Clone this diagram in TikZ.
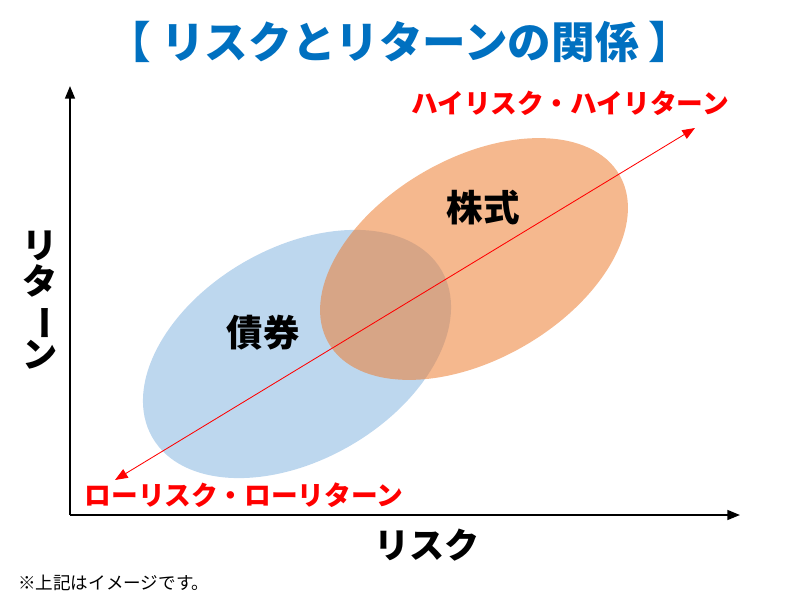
\documentclass[tikz,border=0pt]{standalone}
\usepackage{fontspec}
\setmainfont{Noto Sans CJK JP}
\usepackage{graphicx}
\usetikzlibrary{arrows.meta}
\definecolor{titleblue}{HTML}{0070C0}
\definecolor{bondblue}{HTML}{5B9BD5}
\definecolor{stockorange}{HTML}{ED7D31}
\definecolor{riskred}{HTML}{FF0000}
\tikzset{
  % Set arrowhead
  >={Triangle[length=9pt,width=7pt]},
  % Axes
  axis/.style={->, line width=1.4pt, black},
  % Risk-return arrow
  rr<->/.style={<->, riskred, line width=0.6pt,
    >={Triangle[length=9pt,width=7pt]}},
  % Asset areas
  bondarea/.style={fill=bondblue, fill opacity=0.4},
  stockarea/.style={fill=stockorange, fill opacity=0.55},
  % Texts
  titletext/.style={font=\fontsize{31pt}{33pt}\bfseries, text=titleblue},
  redtext/.style={font=\fontsize{19pt}{20pt}\bfseries, text=riskred},
  axistext/.style={font=\fontsize{25pt}{26pt}\bfseries, align=center},
  assettext/.style={font=\fontsize{26pt}{27pt}\bfseries},
  notetext/.style={font=\fontsize{12.5pt}{14pt}\selectfont},
}

\begin{document}
\begin{tikzpicture}
      \useasboundingbox (0,0) rectangle (20,15);

      \coordinate (origin) at (1.75,2.125);
      \coordinate (ytop) at (1.75,12.85);
      \coordinate (xend) at (18.5,2.125);
      \coordinate (low) at (2.875,3.0);
      \coordinate (high) at (17.375,11.8);
      \coordinate (bondc) at (7.425,6.15);
      \coordinate (stockc) at (11.85,8.525);

      \fill[bondarea, rotate around={30:(bondc)}] (bondc) ellipse
        [x radius=4.175, y radius=2.65];
      \fill[stockarea, rotate around={30:(stockc)}] (stockc) ellipse
        [x radius=4.2, y radius=2.51];

      \draw[rr<->] (low) -- (high);

      \draw[axis] (origin) -- (ytop);
      \draw[axis] (origin) -- (xend);

      \node[titletext] (title) at (10,13.95) {【 リスクとリターンの関係 】};
      \node[redtext] (highrr) at (14.25,12.425) {ハイリスク・ハイリターン};
      \node[redtext] (lowrr) at (6.1,2.625) {ローリスク・ローリターン};
      \node[axistext] (xlabel) at (10.675,1.375) {リスク};
      \node[axistext] (ylabel) at (1.0,7.5)
        {リ\\タ\\\rotatebox[origin=c]{-90}{ー}\\ン};
      \node[assettext] (stock) at (12.075,9.8) {株式};
      \node[assettext] (bond) at (6.575,6.675) {債券};
      \node[notetext, anchor=west, inner sep=0pt] (note) at (0.45,0.425)
        {※上記はイメージです。};
    \end{tikzpicture}
\end{document}
